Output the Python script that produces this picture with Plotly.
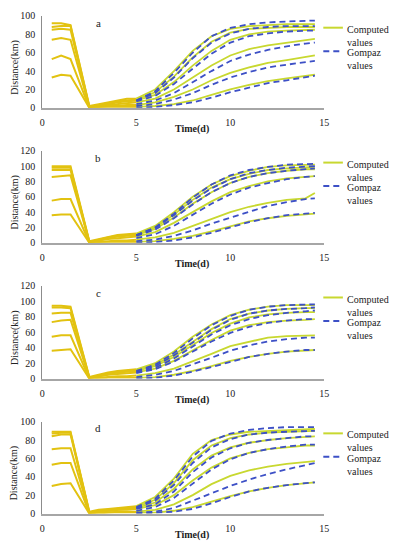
import plotly.graph_objects as go

# ---------------- data ----------------
T_EARLY = [0.5, 1.0, 1.5, 2.5, 3.0, 3.5, 4.0, 4.5, 5.0]
T_LATE = [5, 6, 7, 8, 9, 10, 11, 12, 13, 14, 14.5]
X_TICKS = [0, 5, 10, 15]

# Panel a
A_EARLY = [
    [92, 92, 90, 2, 4, 6, 8, 10, 10],
    [88, 89, 89, 1, 3, 5, 7, 8, 9],
    [85, 86, 85, 1, 3, 4, 6, 7, 8],
    [74, 76, 74, 1, 2, 3, 4, 5, 6],
    [53, 57, 53, 0, 1, 2, 2, 3, 3],
    [33, 36, 35, 0, 0, 1, 1, 1, 1],
]
A_LATE = [
    [10, 20, 40, 62, 78, 86, 89, 90, 91, 91, 91],
    [9, 17, 34, 55, 72, 82, 86, 87, 88, 88, 88],
    [8, 14, 28, 46, 62, 74, 80, 83, 84, 85, 85],
    [6, 10, 20, 33, 46, 57, 64, 68, 71, 74, 75],
    [3, 6, 12, 20, 30, 38, 44, 49, 52, 55, 57],
    [1, 2, 4, 8, 14, 20, 25, 29, 32, 35, 36],
]
A_GOMP = [
    [8, 18, 38, 60, 78, 87, 91, 93, 94, 95, 95],
    [8, 16, 33, 54, 71, 81, 86, 88, 89, 89, 89],
    [7, 13, 26, 43, 59, 71, 78, 81, 83, 84, 84],
    [4, 8, 16, 28, 40, 51, 58, 63, 67, 70, 71],
    [2, 4, 9, 16, 25, 33, 39, 44, 47, 50, 51],
    [0, 1, 3, 6, 11, 17, 22, 27, 30, 33, 35],
]

# Panel b
B_EARLY = [
    [100, 100, 100, 2, 5, 8, 10, 11, 12],
    [98, 98, 98, 1, 4, 7, 9, 10, 11],
    [95, 95, 95, 1, 3, 6, 8, 9, 10],
    [86, 87, 88, 1, 3, 5, 6, 7, 8],
    [55, 57, 57, 0, 1, 2, 3, 3, 4],
    [36, 37, 37, 0, 0, 1, 1, 1, 1],
]
B_LATE = [
    [12, 22, 40, 60, 76, 87, 94, 99, 101, 102, 102],
    [11, 20, 37, 56, 72, 83, 90, 95, 97, 98, 99],
    [10, 18, 33, 51, 66, 78, 86, 91, 94, 96, 96],
    [8, 14, 26, 40, 54, 66, 74, 80, 84, 86, 87],
    [4, 7, 13, 22, 31, 40, 47, 52, 56, 58, 65],
    [1, 2, 5, 9, 15, 22, 28, 32, 35, 37, 38],
]
B_GOMP = [
    [10, 20, 38, 59, 76, 88, 95, 99, 102, 103, 103],
    [10, 19, 36, 55, 71, 83, 91, 95, 98, 99, 100],
    [9, 17, 32, 50, 66, 78, 86, 91, 94, 96, 97],
    [6, 11, 22, 37, 51, 63, 72, 78, 83, 86, 87],
    [2, 4, 9, 16, 25, 33, 41, 48, 53, 57, 58],
    [0, 1, 3, 7, 13, 20, 27, 32, 36, 38, 39],
]

# Panel c
C_EARLY = [
    [94, 94, 93, 2, 5, 8, 10, 11, 12],
    [92, 92, 91, 1, 4, 7, 9, 10, 11],
    [84, 85, 85, 1, 3, 6, 8, 9, 10],
    [73, 75, 76, 1, 3, 5, 6, 7, 8],
    [54, 56, 56, 0, 1, 2, 3, 3, 4],
    [36, 37, 38, 0, 0, 1, 1, 1, 1],
]
C_LATE = [
    [12, 20, 35, 54, 70, 82, 89, 93, 95, 95, 95],
    [11, 18, 31, 48, 64, 77, 84, 88, 90, 91, 91],
    [10, 16, 28, 44, 59, 71, 79, 83, 85, 86, 86],
    [8, 13, 23, 37, 50, 62, 69, 73, 75, 76, 77],
    [4, 7, 13, 22, 32, 42, 48, 53, 55, 56, 56],
    [1, 2, 5, 10, 16, 23, 28, 32, 35, 36, 37],
]
C_GOMP = [
    [10, 18, 33, 52, 69, 81, 89, 93, 95, 96, 96],
    [9, 16, 30, 47, 63, 76, 84, 88, 90, 91, 92],
    [8, 14, 26, 42, 57, 69, 77, 82, 85, 87, 88],
    [7, 12, 22, 35, 48, 59, 67, 72, 75, 77, 77],
    [2, 5, 10, 18, 27, 36, 43, 48, 51, 53, 53],
    [0, 1, 4, 9, 15, 22, 28, 32, 35, 37, 37],
]

# Panel d
D_EARLY = [
    [89, 89, 89, 2, 4, 5, 6, 7, 8],
    [87, 88, 88, 1, 3, 4, 5, 6, 7],
    [84, 86, 86, 1, 2, 3, 4, 5, 6],
    [70, 71, 71, 1, 2, 3, 4, 4, 5],
    [53, 55, 55, 0, 1, 1, 2, 2, 2],
    [30, 32, 33, 0, 0, 1, 1, 1, 1],
]
D_LATE = [
    [8, 18, 38, 65, 80, 86, 89, 90, 91, 92, 92],
    [7, 15, 33, 58, 74, 82, 86, 88, 89, 90, 90],
    [6, 12, 27, 48, 63, 72, 77, 80, 82, 83, 84],
    [5, 9, 20, 36, 50, 60, 66, 70, 72, 74, 74],
    [2, 4, 10, 20, 32, 41, 47, 51, 54, 56, 57],
    [1, 1, 3, 7, 13, 19, 24, 28, 31, 33, 34],
]
D_GOMP = [
    [7, 16, 36, 62, 79, 87, 91, 93, 94, 94, 94],
    [6, 14, 31, 55, 72, 81, 86, 88, 89, 90, 90],
    [5, 10, 24, 45, 61, 71, 77, 80, 82, 84, 84],
    [3, 7, 17, 33, 48, 59, 66, 70, 73, 75, 75],
    [1, 2, 6, 14, 22, 30, 37, 43, 48, 53, 55],
    [0, 1, 2, 5, 11, 18, 24, 28, 31, 33, 34],
]

PANEL_LABELS = ["a", "b", "c", "d"]
Y_MAX = [100, 120, 120, 100]
LEGEND_NAMES = ["Computed<br>values", "Gompaz<br>values"]

# ---------------- style / layout ----------------
PAGE_MARGIN = 8           # default body margin of the html page
W, H = 397 - 2 * PAGE_MARGIN, 550 - 2 * PAGE_MARGIN
GOLD = "#E2C210"
LIME = "#C8D830"
BLUE = "#3D50C6"
FONT = "Liberation Serif"
TXT = "#222222"
X_LEFT, X_RIGHT = 40, 328          # positions in window pixels
TOPS = [10, 148, 286, 425]
BOTTOMS = [104, 242, 381, 519]


def px(x):
    return (x - PAGE_MARGIN) / W


def py(y):
    return 1 - (y - PAGE_MARGIN) / H


fig = go.Figure()
panels = [(A_EARLY, A_LATE, A_GOMP), (B_EARLY, B_LATE, B_GOMP),
          (C_EARLY, C_LATE, C_GOMP), (D_EARLY, D_LATE, D_GOMP)]

annotations = []
shapes = []
for i, (early, late, gomp) in enumerate(panels):
    n = "" if i == 0 else str(i + 1)
    xr, yr = "x" + n, "y" + n
    for ys in early:
        fig.add_trace(go.Scatter(x=T_EARLY, y=ys, mode="lines", xaxis=xr, yaxis=yr,
                                 line=dict(color=GOLD, width=2), showlegend=False,
                                 hoverinfo="skip"))
    for ys in late:
        fig.add_trace(go.Scatter(x=T_LATE, y=ys, mode="lines", xaxis=xr, yaxis=yr,
                                 line=dict(color=LIME, width=1.8), showlegend=False,
                                 hoverinfo="skip"))
    for ys in gomp:
        fig.add_trace(go.Scatter(x=T_LATE, y=ys, mode="lines", xaxis=xr, yaxis=yr,
                                 line=dict(color=BLUE, width=1.8, dash="6px,4px"),
                                 showlegend=False, hoverinfo="skip"))
    top, bot = TOPS[i], BOTTOMS[i]
    fig.update_layout(**{
        "xaxis" + n: dict(domain=[px(X_LEFT), px(X_RIGHT)], range=[0, 15],
                          tickvals=X_TICKS, showline=True, linecolor="#a6a6a6",
                          linewidth=2, showgrid=False, zeroline=False,
                          ticks="outside", ticklen=4, tickcolor="rgba(0,0,0,0)",
                          tickfont=dict(family=FONT, size=10, color=TXT),
                          anchor=yr, fixedrange=True),
        "yaxis" + n: dict(domain=[py(bot), py(top)], range=[0, Y_MAX[i]], dtick=20,
                          showline=True, linecolor="#8c8c8c", linewidth=1,
                          showgrid=False, zeroline=False,
                          ticks="outside", ticklen=4, tickcolor="rgba(0,0,0,0)",
                          tickfont=dict(family=FONT, size=10, color=TXT),
                          anchor=xr, fixedrange=True),
    })
    # panel letter
    annotations.append(dict(text=PANEL_LABELS[i], x=px(97), y=py(top + 7),
                            xref="paper", yref="paper", showarrow=False,
                            xanchor="center", yanchor="middle",
                            font=dict(family=FONT, size=11, color=TXT)))
    # axis titles
    annotations.append(dict(text="<b>Time(d)</b>", x=px(193), y=py(bot + 22),
                            xref="paper", yref="paper", showarrow=False,
                            xanchor="center", yanchor="middle",
                            font=dict(family=FONT, size=10, color=TXT)))
    annotations.append(dict(text="Distance(km)", x=px(12), y=py((top + bot) / 2 + 6),
                            xref="paper", yref="paper", showarrow=False, textangle=-90,
                            xanchor="center", yanchor="middle",
                            font=dict(family=FONT, size=10, color=TXT)))
    # legend
    for k, (name, color, dash) in enumerate([(LEGEND_NAMES[0], LIME, "solid"),
                                             (LEGEND_NAMES[1], BLUE, "6px,4px")]):
        ly = top + 12 + k * 24
        shapes.append(dict(type="line", xref="paper", yref="paper",
                           x0=px(327), x1=px(347), y0=py(ly), y1=py(ly),
                           line=dict(color=color, width=2, dash=dash)))
        annotations.append(dict(text=name, x=px(349), y=py(ly - 6), xref="paper",
                                yref="paper", xanchor="left", yanchor="top",
                                align="left", showarrow=False,
                                font=dict(family=FONT, size=10, color=TXT)))

fig.update_layout(width=W, height=H, margin=dict(l=0, r=0, t=0, b=0, pad=0),
                  paper_bgcolor="white", plot_bgcolor="white", showlegend=False,
                  annotations=annotations, shapes=shapes,
                  font=dict(family=FONT, size=10, color=TXT))

fig.write_html("out.html")
